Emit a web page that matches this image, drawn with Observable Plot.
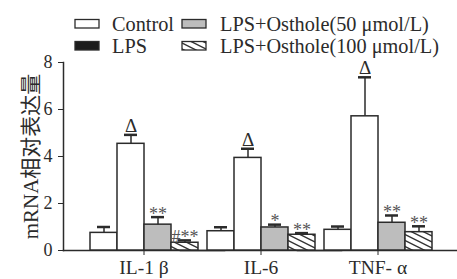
<!DOCTYPE html>
<html><head><meta charset="utf-8">
<script src="https://cdn.jsdelivr.net/npm/d3@7"></script>
<script src="https://cdn.jsdelivr.net/npm/@observablehq/plot@0.6"></script>
<style>
body{margin:0;background:#fff;}
#wrap{position:relative;width:457px;height:279px;font-family:"Liberation Serif","Noto Sans CJK SC",serif;color:#2b2b2b;}
#legend{position:absolute;left:0;top:0;}
#chart svg{display:block;}
</style></head><body>
<div id="wrap"><div id="chart"></div><svg id="legend" width="457" height="58"></svg></div>
<script>
// ---- data ----
const genes = ["IL-1 β", "IL-6", "TNF- α"];
const seriesNames = ["Control", "LPS", "LPS+Osthole(50 μmol/L)", "LPS+Osthole(100 μmol/L)"];
const controlValues = [0.75, 0.82, 0.88];
const lpsValues = [4.54, 3.94, 5.71];
const osthole50Values = [1.10, 0.98, 1.18];
const osthole100Values = [0.33, 0.67, 0.78];
const controlErrors = [0.25, 0.17, 0.14];
const lpsErrors = [0.38, 0.39, 1.66];
const osthole50Errors = [0.32, 0.12, 0.31];
const osthole100Errors = [0.10, 0.07, 0.25];
const controlMarks = ["", "", ""];
const lpsMarks = ["Δ", "Δ", "Δ"];
const osthole50Marks = ["**", "*", "**"];
const osthole100Marks = ["#**", "**", "**"];
const yTicks = [0, 2, 4, 6, 8];
const yLabel = "mRNA相对表达量";

const values = [controlValues, lpsValues, osthole50Values, osthole100Values];
const errors = [controlErrors, lpsErrors, osthole50Errors, osthole100Errors];
const sigs = [controlMarks, lpsMarks, osthole50Marks, osthole100Marks];
const data = [];
genes.forEach((g, i) => seriesNames.forEach((s, k) => {
  data.push({gene: g, series: s, value: values[k][i], top: values[k][i] + errors[k][i], sig: sigs[k][i]});
}));

const ink = "#2b2b2b";
const FONT = '"Liberation Serif","Noto Sans CJK SC",serif';
const barFills = ["#ffffff", "#ffffff", "#bdbdbd", "url(#hatch)"];
const legendFills = ["#ffffff", "#1c1c1c", "#bdbdbd", "url(#hatch)"];

// ---- legend (with hatch pattern defs) ----
const leg = d3.select("#legend");
const pat = leg.append("defs").append("pattern")
  .attr("id", "hatch").attr("patternUnits", "userSpaceOnUse")
  .attr("width", 12).attr("height", 6);
pat.append("rect").attr("width", 12).attr("height", 6).attr("fill", "#fff");
pat.append("path").attr("d", "M-2,-1L14,7M-2,5L2,7M10,-1L14,1")
  .attr("stroke", "#333").attr("stroke-width", 1.4).attr("fill", "none");
const colX = [75, 182], colText = [112, 220], rowY = [19.5, 41.5], rowBase = [30.5, 52.5];
seriesNames.forEach((s, k) => {
  const c = Math.floor(k / 2), r = k % 2;
  leg.append("rect").attr("x", colX[c]).attr("y", rowY[r]).attr("width", 24).attr("height", 8.5)
    .attr("fill", legendFills[k]).attr("stroke", ink).attr("stroke-width", 1.3);
  leg.append("text").attr("x", colText[c]).attr("y", rowBase[r]).text(s)
    .attr("font-family", FONT).attr("font-size", 20.3).attr("fill", ink);
});

// ---- chart ----
const chart = Plot.plot({
  width: 457, height: 279,
  marginLeft: 62, marginRight: 0, marginTop: 62, marginBottom: 29,
  style: {fontFamily: FONT, fontSize: "18px", color: ink, background: "transparent"},
  fx: {domain: genes, paddingInner: 0.05, paddingOuter: 0.2, align: 0.53, label: null},
  x: {domain: seriesNames, padding: 0, axis: null},
  y: {domain: [0, 8], axis: null},
  color: {domain: seriesNames, range: barFills},
  marks: [
    Plot.frame({anchor: "bottom", insetLeft: -25, insetRight: -25, stroke: ink, strokeWidth: 1.5}),
    Plot.frame({anchor: "left", facetAnchor: "left", dx: -25, stroke: ink, strokeWidth: 1.5}),
    Plot.barY(data, {fx: "gene", x: "series", y: "value", fill: "series", stroke: ink, strokeWidth: 1.5}),
    Plot.ruleX(data, {fx: "gene", x: "series", y1: "value", y2: "top", stroke: ink, strokeWidth: 1.5}),
    Plot.tickY(data, {fx: "gene", x: "series", y: "top", stroke: ink, strokeWidth: 2.5, insetLeft: 7, insetRight: 7}),
    Plot.text(data.filter(d => d.sig === "Δ"), {fx: "gene", x: "series", y: "top", text: "sig", dy: -9, fontSize: 19, fill: ink}),
    Plot.text(data.filter(d => d.sig && d.sig !== "Δ"), {fx: "gene", x: "series", y: "top", text: "sig", dy: -3, fontSize: 18, fill: "#555"}),
    Plot.axisY({ticks: yTicks, tickSize: 5, tickPadding: 6, dx: -25, label: null, fontSize: 18, stroke: ink}),
    Plot.axisFx({anchor: "bottom", tickSize: 5, tickPadding: 5, label: null, fontSize: 19.5, stroke: ink}),
    Plot.text([yLabel], {frameAnchor: "left", facetAnchor: "left", textAnchor: "middle", rotate: -90, dx: -57, fontSize: 21, fill: ink})
  ]
});
document.getElementById("chart").appendChild(chart);
</script>
</body></html>
